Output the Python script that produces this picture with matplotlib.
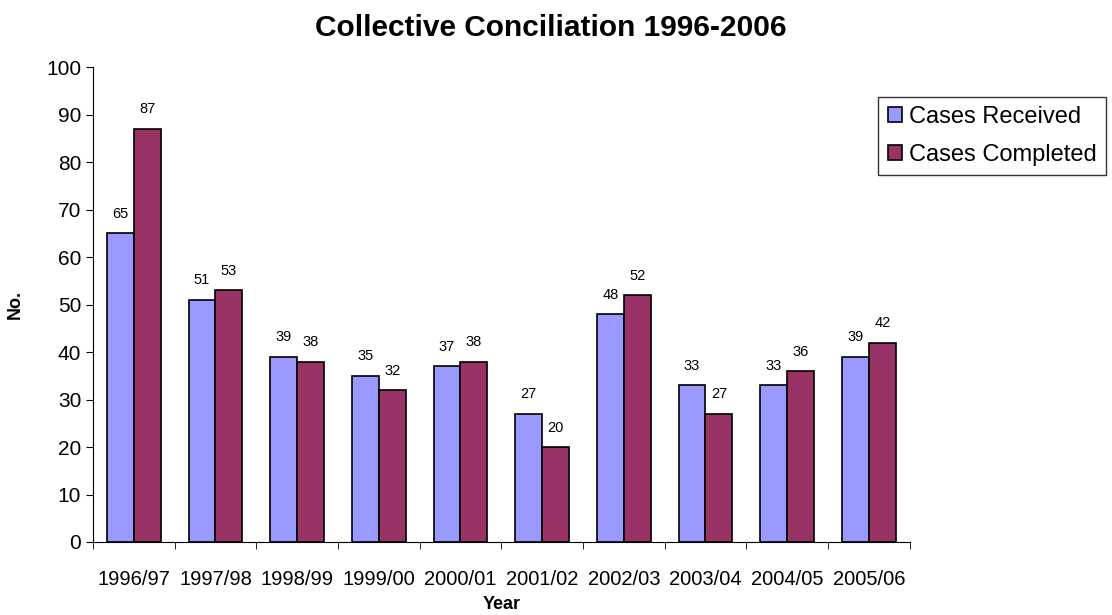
import matplotlib.pyplot as plt
import numpy as np

plt.rcParams['font.family'] = ['Liberation Sans', 'DejaVu Sans']

years = ['1996/97', '1997/98', '1998/99', '1999/00', '2000/01',
         '2001/02', '2002/03', '2003/04', '2004/05', '2005/06']
received = [65, 51, 39, 35, 37, 27, 48, 33, 33, 39]
completed = [87, 53, 38, 32, 38, 20, 52, 27, 36, 42]

fig = plt.figure(figsize=(11.12, 6.15), dpi=100)
ax = fig.add_axes([0.0836, 0.1187, 0.7344, 0.7723])

x = np.arange(len(years))
w = 0.33
b1 = ax.bar(x - w / 2, received, w, color='#9999FF', edgecolor='black',
            linewidth=1.2, label='Cases Received')
b2 = ax.bar(x + w / 2, completed, w, color='#993366', edgecolor='black',
            linewidth=1.2, label='Cases Completed')

for bars, vals in ((b1, received), (b2, completed)):
    for r, v in zip(bars, vals):
        ax.annotate(str(v), (r.get_x() + r.get_width() / 2, v),
                    xytext=(0, 9), textcoords='offset points',
                    ha='center', va='bottom', fontsize=10.5)

ax.set_xlim(-0.5, len(years) - 0.5)
ax.set_ylim(0, 100)
ax.set_yticks(range(0, 101, 10))
ax.set_xticks(x)
ax.set_xticklabels(years, fontsize=14.5)
ax.set_xticks(np.arange(-0.5, len(years)), minor=True)
ax.tick_params(axis='x', which='major', length=0, pad=20)
ax.tick_params(axis='x', which='minor', length=5, direction='out')
ax.tick_params(axis='y', labelsize=15, length=5)

for s in ('top', 'right'):
    ax.spines[s].set_visible(False)

ax.set_xlabel('Year', fontsize=13, fontweight='bold', labelpad=5)
ax.set_ylabel('No.', fontsize=13, fontweight='bold', labelpad=16)
fig.suptitle('Collective Conciliation 1996-2006', fontsize=21.5,
             fontweight='bold', x=0.495, y=0.978)

fig.legend(handles=[b1, b2], loc='upper left',
           bbox_to_anchor=(0.79, 0.843), fontsize=17, frameon=True,
           fancybox=False, edgecolor='black', handlelength=0.6,
           handleheight=0.6, handletextpad=0.3, borderpad=0.4,
           labelspacing=0.68, borderaxespad=0)

fig.savefig('out.png', dpi=100)
